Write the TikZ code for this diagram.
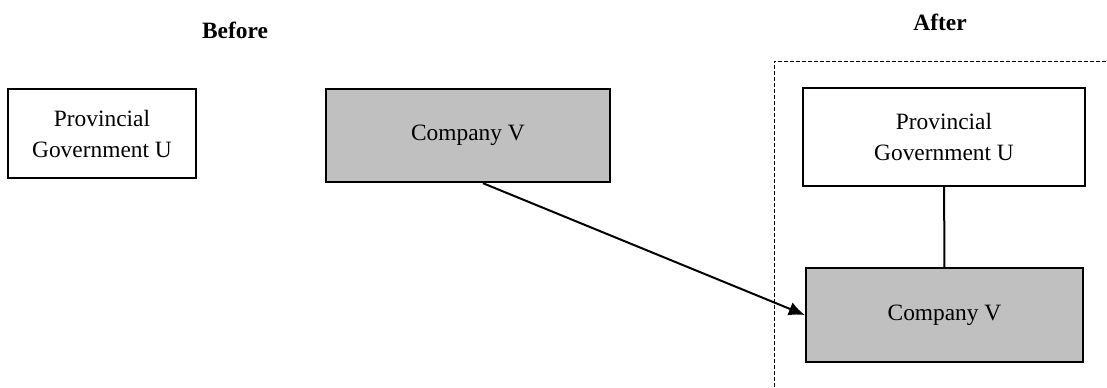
\documentclass[tikz,border=0pt]{standalone}
\usepackage{fontspec}
\setmainfont{Liberation Serif}
\usetikzlibrary{arrows.meta}
\definecolor{boxgray}{RGB}{192,192,192}

\begin{document}
\fontsize{11.7}{15.5}\selectfont
\begin{tikzpicture}[x=0.5pt, y=-0.5pt,
    main/.style = {draw, line width=1.2pt, align=center, inner sep=0pt},
    shaded/.style = {main, fill=boxgray},
    title/.style = {font=\bfseries}]
    \useasboundingbox (0,0) rectangle (1107,387);
    \node[title] (before) at (235,30) {Before};
    \node[title] (after) at (940,22) {After};
    \node[main, minimum width=94pt, minimum height=44.5pt] (gov1) at (102,133.5) {Provincial\\Government U};
    \node[shaded, minimum width=142pt, minimum height=46.5pt] (comp1) at (468,135.5) {Company V};
    \node[main, minimum width=141pt, minimum height=49pt] (gov2) at (944,137) {Provincial\\Government U};
    \node[shaded, minimum width=138.5pt, minimum height=47pt] (comp2) at (944.5,315) {Company V};
    \coordinate (frame1) at (774,387);
    \coordinate (frame2) at (774,61);
    \coordinate (frame3) at (1107,61);
    \draw[dashed, line width=0.5pt, dash pattern=on 2pt off 1pt] (frame1) -- (frame2) -- (frame3);
    \draw[line width=1pt] (gov2) -- (comp2);
    \draw[line width=1pt, -{Latex[length=8pt, width=7pt]}] ([xshift=7.5pt]comp1.south) -- (comp2.west);
\end{tikzpicture}
\end{document}
